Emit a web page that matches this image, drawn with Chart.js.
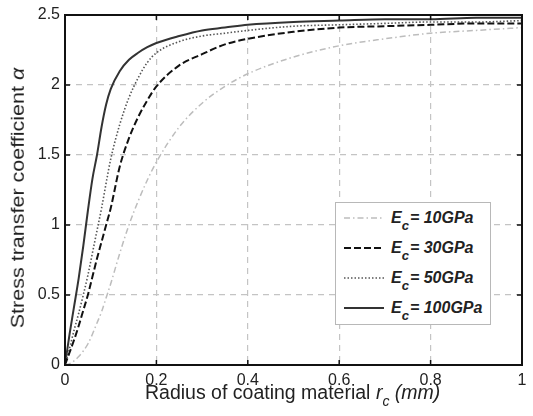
<!DOCTYPE html>
<html>
<head>
<meta charset="utf-8">
<script src="https://cdn.jsdelivr.net/npm/chart.js@4/dist/chart.umd.min.js"></script>
<style>
  body { margin: 0; background: #fff; }
  #wrap { position: relative; width: 533px; height: 416px; font-family: "Liberation Sans", Arial, sans-serif; color: #222; }
  #xtitle { position: absolute; left: 145px; top: 381px; white-space: nowrap; font-size: 19.5px; }
  #xtitle .sub { position: relative; top: 7px; font-size: 14px; font-style: italic; }
  #ytitle { position: absolute; left: -182px; top: 186px; width: 400px; height: 24px; line-height: 24px; text-align: center; transform: rotate(-90deg) scaleY(0.85); white-space: nowrap; font-size: 21.5px; }
  #legend { position: absolute; left: 335px; top: 202px; width: 156px; height: 123px; border: 1px solid #b8b8b8; background: #fff; box-sizing: border-box; }
  .row { position: absolute; left: 7px; height: 20px; display: flex; align-items: center; }
  .row svg { width: 42px; height: 10px; margin-right: 6px; }
  .row span.lbl { font-weight: bold; font-style: italic; font-size: 16px; }
  .row .sub { position: relative; top: 7px; font-size: 13px; margin-right: 1px; }
</style>
</head>
<body>
<div id="wrap">
  <canvas id="chart" width="533" height="416"></canvas>
  <div id="ytitle">Stress transfer coefficient <i>α</i></div>
  <div id="xtitle">Radius of coating material <i>r</i><span class="sub">c</span> <i>(mm)</i></div>
  <div id="legend"></div>
</div>
<script>
const radius = [0, 0.01, 0.02, 0.03, 0.04, 0.05, 0.06, 0.07, 0.08, 0.09, 0.1, 0.12, 0.14, 0.16, 0.18, 0.2, 0.25, 0.3, 0.35, 0.4, 0.5, 0.6, 0.7, 0.8, 0.9, 1.0];
const alpha10 = [0, 0.01, 0.03, 0.06, 0.1, 0.15, 0.22, 0.3, 0.38, 0.48, 0.58, 0.8, 1.0, 1.17, 1.32, 1.45, 1.7, 1.87, 1.99, 2.08, 2.2, 2.28, 2.33, 2.37, 2.39, 2.41];
const alpha30 = [0, 0.09, 0.18, 0.28, 0.39, 0.5, 0.63, 0.76, 0.88, 1.0, 1.12, 1.42, 1.62, 1.77, 1.89, 1.99, 2.14, 2.22, 2.29, 2.33, 2.38, 2.41, 2.42, 2.43, 2.44, 2.44];
const alpha50 = [0, 0.12, 0.25, 0.37, 0.5, 0.64, 0.8, 0.96, 1.12, 1.3, 1.47, 1.72, 1.91, 2.05, 2.16, 2.23, 2.31, 2.35, 2.37, 2.39, 2.42, 2.43, 2.44, 2.45, 2.45, 2.46];
const alpha100 = [0, 0.22, 0.42, 0.62, 0.85, 1.1, 1.33, 1.5, 1.7, 1.86, 1.97, 2.1, 2.18, 2.23, 2.27, 2.3, 2.35, 2.39, 2.41, 2.43, 2.45, 2.46, 2.47, 2.47, 2.48, 2.48];
const seriesNames = ['10GPa', '30GPa', '50GPa', '100GPa'];

const styles = [
    { color: '#bdbdbd', width: 1.5, dash: [6, 3, 1.5, 3] },
    { color: '#111111', width: 2, dash: [7, 3] },
    { color: '#555555', width: 1.6, dash: [1.5, 2] },
    { color: '#333333', width: 2, dash: [] }
];

function points(values) {
    return radius.map((r, i) => ({ x: r, y: values[i] }));
}

const allSeries = [alpha10, alpha30, alpha50, alpha100];

const boxPlugin = {
    id: 'box',
    afterDraw(chart) {
        const ctx = chart.ctx;
        const a = chart.chartArea;
        const xs = chart.scales.x, ys = chart.scales.y;
        ctx.save();
        ctx.strokeStyle = '#111';
        ctx.lineWidth = 1.5;
        ctx.beginPath();
        xs.ticks.forEach(t => {
            const px = xs.getPixelForValue(t.value);
            ctx.moveTo(px, a.bottom); ctx.lineTo(px, a.bottom - 5);
            ctx.moveTo(px, a.top); ctx.lineTo(px, a.top + 5);
        });
        ys.ticks.forEach(t => {
            const py = ys.getPixelForValue(t.value);
            ctx.moveTo(a.left, py); ctx.lineTo(a.left + 5, py);
            ctx.moveTo(a.right, py); ctx.lineTo(a.right - 5, py);
        });
        ctx.stroke();
        ctx.lineWidth = 2;
        ctx.strokeRect(a.left, a.top, a.right - a.left, a.bottom - a.top);
        ctx.restore();
    }
};

const tickFont = { family: 'Liberation Sans', size: 16 };
const fmt = v => String(+v.toFixed(2));

const ctx = document.getElementById('chart').getContext('2d');
new Chart(ctx, {
    type: 'line',
    data: {
        datasets: allSeries.map((vals, i) => ({
            label: 'Ec = ' + seriesNames[i],
            data: points(vals),
            borderColor: styles[i].color,
            borderWidth: styles[i].width,
            borderDash: styles[i].dash,
            pointRadius: 0,
            fill: false,
            cubicInterpolationMode: 'monotone'
        }))
    },
    options: {
        responsive: false,
        animation: false,
        layout: { padding: { top: 15, right: 11, left: 0, bottom: 0 } },
        plugins: { legend: { display: false }, tooltip: { enabled: false } },
        scales: {
            x: {
                type: 'linear',
                min: 0,
                max: 1,
                ticks: { stepSize: 0.2, padding: 6, color: '#222', font: tickFont, callback: fmt },
                grid: { color: '#c4c4c4', lineWidth: 1.2, drawTicks: false },
                border: { display: false, dash: [6, 5] },
                afterFit(scale) { scale.height = 51; }
            },
            y: {
                min: 0,
                max: 2.5,
                ticks: { stepSize: 0.5, padding: 5, color: '#222', font: tickFont, callback: fmt },
                grid: { color: '#c4c4c4', lineWidth: 1.2, drawTicks: false },
                border: { display: false, dash: [6, 5] },
                afterFit(scale) { scale.width = 65; }
            }
        }
    },
    plugins: [boxPlugin]
});

// legend
const legend = document.getElementById('legend');
seriesNames.forEach((name, i) => {
    const row = document.createElement('div');
    row.className = 'row';
    row.style.top = (5 + i * 30) + 'px';
    const s = styles[i];
    row.innerHTML = '<svg viewBox="0 0 42 10"><line x1="1" y1="5" x2="41" y2="5" stroke="' + s.color +
        '" stroke-width="' + s.width + '" stroke-dasharray="' + (s.dash.length ? s.dash.join(' ') : 'none') + '"/></svg>' +
        '<span class="lbl">E<span class="sub">c</span>= ' + name + '</span>';
    legend.appendChild(row);
});
</script>
</body>
</html>
